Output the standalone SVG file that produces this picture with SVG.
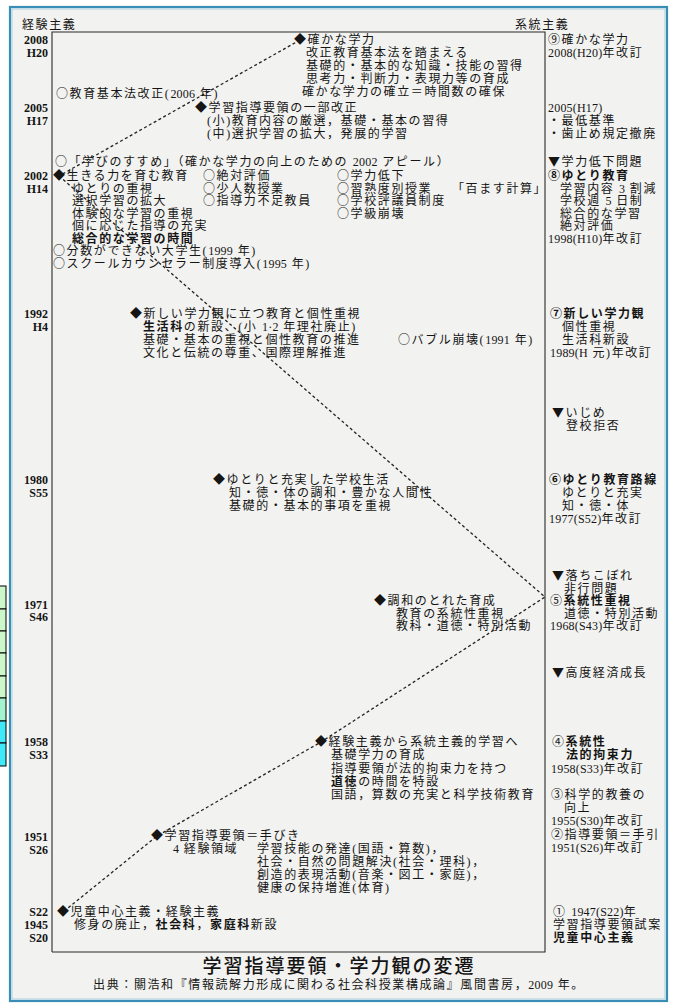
<svg xmlns="http://www.w3.org/2000/svg" width="675" height="1008" viewBox="0 0 675 1008">
<defs>
<style>
.t{font-family:"Liberation Serif","Noto Sans CJK JP",serif;font-size:12px;letter-spacing:1.6px;fill:#151515}
.s{font-family:"Noto Sans CJK JP",sans-serif}
.n{letter-spacing:0.2px}
.b{font-weight:bold}
.yr{font-family:"Liberation Serif",serif;font-size:12px;font-weight:bold;text-anchor:end;fill:#151515}
.ln{stroke:#2a2a2a;stroke-width:1.1;fill:none}
.dash{stroke:#222;stroke-width:1.3;fill:none;stroke-dasharray:3 2.5}
.cell{stroke:#000;stroke-width:1}
</style>
</defs>
<rect x="0" y="0" width="675" height="1008" fill="#ffffff"/>
<g id="side-table">
<rect class="cell" x="-2" y="586" width="8" height="23" fill="#cbf7cb"/>
<rect class="cell" x="-2" y="609" width="8" height="22" fill="#cbf7cb"/>
<rect class="cell" x="-2" y="631" width="8" height="22" fill="#cbf7cb"/>
<rect class="cell" x="-2" y="653" width="8" height="23" fill="#cbf7cb"/>
<rect class="cell" x="-2" y="676" width="8" height="22" fill="#cbf7cb"/>
<rect class="cell" x="-2" y="698" width="8" height="23" fill="#a3f3cf"/>
<rect class="cell" x="-2" y="721" width="8" height="22" fill="#3fe9f8"/>
<rect class="cell" x="-2" y="743" width="8" height="23" fill="#3fe9f8"/>
</g>
<g id="frame">
<rect x="10" y="7" width="657" height="994" fill="#f2f2f0" stroke="#3a8db4" stroke-width="2.2"/>
<rect x="12" y="9" width="653" height="990" fill="none" stroke="#a8d0e2" stroke-width="1"/>
</g>
<g id="chart-box">
<polyline class="ln" points="52,952 52,32 545,32 545,952 52,952"/>
<text class="t" x="22" y="28.5">経験主義</text>
<text class="t" x="515" y="28.5">系統主義</text>
</g>
<g id="years">
<text class="yr" x="48" y="44">2008</text><text class="yr" x="48" y="57">H20</text>
<text class="yr" x="48" y="112">2005</text><text class="yr" x="48" y="125">H17</text>
<text class="yr" x="48" y="180">2002</text><text class="yr" x="48" y="192.5">H14</text>
<text class="yr" x="48" y="318">1992</text><text class="yr" x="48" y="331">H4</text>
<text class="yr" x="48" y="484">1980</text><text class="yr" x="48" y="497">S55</text>
<text class="yr" x="48" y="609">1971</text><text class="yr" x="48" y="621">S46</text>
<text class="yr" x="48" y="746">1958</text><text class="yr" x="48" y="759">S33</text>
<text class="yr" x="48" y="841">1951</text><text class="yr" x="48" y="854">S26</text>
<text class="yr" x="48" y="916">S22</text><text class="yr" x="48" y="929">1945</text><text class="yr" x="48" y="942">S20</text>
</g>
<g id="connectors">
<polyline class="dash" points="300,40 59,176"/>
<polyline class="dash" points="59,176 545,597 321,742 157,836 63,912"/>
</g>
<g id="n2008">
<text class="t" x="294" y="44.4"><tspan class="s">◆</tspan>確かな学力</text>
<text class="t" x="306" y="57.4">改正教育基本法を踏まえる</text>
<text class="t" x="306" y="70.4">基礎的・基本的な知識・技能の習得</text>
<text class="t" x="306" y="83.4">思考力・判断力・表現力等の育成</text>
<text class="t" x="302" y="96.4">確かな学力の確立＝時間数の確保</text>
<text class="t" x="56" y="98.4"><tspan class="s">○</tspan>教育基本法改正(<tspan class="n">2006</tspan> 年)</text>
</g>
<g id="r2008">
<text class="t" x="548" y="44.4">⑨確かな学力</text>
<text class="t" x="548" y="57.4"><tspan class="n">2008(H20)</tspan>年改訂</text>
<text class="t" x="548" y="112.4"><tspan class="n">2005(H17)</tspan></text>
<text class="t" x="548" y="125.4">・最低基準</text>
<text class="t" x="548" y="138.4">・歯止め規定撤廃</text>
</g>
<g id="n2005">
<text class="t" x="195" y="112.4"><tspan class="s">◆</tspan>学習指導要領の一部改正</text>
<text class="t" x="207" y="125.4">(小)教育内容の厳選，基礎・基本の習得</text>
<text class="t" x="207" y="138.4">(中)選択学習の拡大，発展的学習</text>
</g>
<g id="n2002">
<text class="t" x="55" y="166.4"><tspan class="s">○</tspan>「学びのすすめ」（確かな学力の向上のための <tspan class="n">2002</tspan> アピール）</text>
<text class="t" x="53" y="180.4"><tspan class="s">◆</tspan>生きる力を育む教育</text>
<text class="t" x="72" y="192.9">ゆとりの重視</text>
<text class="t" x="72" y="205.4">選択学習の拡大</text>
<text class="t" x="72" y="217.9">体験的な学習の重視</text>
<text class="t" x="72" y="230.4">個に応じた指導の充実</text>
<text class="t b" x="72" y="242.9">総合的な学習の時間</text>
<text class="t" x="53" y="255.4"><tspan class="s">○</tspan>分数ができない大学生(<tspan class="n">1999</tspan> 年)</text>
<text class="t" x="53" y="267.9"><tspan class="s">○</tspan>スクールカウンセラー制度導入(<tspan class="n">1995</tspan> 年)</text>
<text class="t" x="203" y="180.4"><tspan class="s">○</tspan>絶対評価</text>
<text class="t" x="203" y="192.9"><tspan class="s">○</tspan>少人数授業</text>
<text class="t" x="203" y="205.4"><tspan class="s">○</tspan>指導力不足教員</text>
<text class="t" x="337" y="180.4"><tspan class="s">○</tspan>学力低下</text>
<text class="t" x="337" y="192.9"><tspan class="s">○</tspan>習熟度別授業</text>
<text class="t" x="337" y="205.4"><tspan class="s">○</tspan>学校評議員制度</text>
<text class="t" x="337" y="217.9"><tspan class="s">○</tspan>学級崩壊</text>
<text class="t" x="452" y="192.9">「百ます計算」</text>
</g>
<g id="r2002">
<text class="t" x="548" y="166.4"><tspan class="s">▼</tspan>学力低下問題</text>
<text class="t b" x="548" y="180.4">⑧ゆとり教育</text>
<text class="t" x="560" y="192.9">学習内容 <tspan class="n">3</tspan> 割減</text>
<text class="t" x="560" y="205.4">学校週 <tspan class="n">5</tspan> 日制</text>
<text class="t" x="560" y="217.9">総合的な学習</text>
<text class="t" x="560" y="230.4">絶対評価</text>
<text class="t" x="548" y="242.9"><tspan class="n">1998(H10)</tspan>年改訂</text>
</g>
<g id="n1992">
<text class="t" x="130" y="318.4"><tspan class="s">◆</tspan>新しい学力観に立つ教育と個性重視</text>
<text class="t" x="143" y="331.4"><tspan class="b">生活科</tspan>の新設、(小 <tspan class="n">1·2</tspan> 年理社廃止)</text>
<text class="t" x="143" y="344.4">基礎・基本の重視と個性教育の推進</text>
<text class="t" x="143" y="357.4">文化と伝統の尊重、国際理解推進</text>
<text class="t" x="398" y="344.4"><tspan class="s">○</tspan>バブル崩壊(<tspan class="n">1991</tspan> 年)</text>
</g>
<g id="r1992">
<text class="t b" x="550" y="318.4">⑦新しい学力観</text>
<text class="t" x="562" y="331.4">個性重視</text>
<text class="t" x="562" y="344.4">生活科新設</text>
<text class="t" x="550" y="357.4"><tspan class="n">1989(H</tspan> 元)年改訂</text>
<text class="t" x="552" y="417.4"><tspan class="s">▼</tspan>いじめ</text>
<text class="t" x="566" y="430.4">登校拒否</text>
</g>
<g id="n1980">
<text class="t" x="213" y="484.4"><tspan class="s">◆</tspan>ゆとりと充実した学校生活</text>
<text class="t" x="229" y="497.4">知・徳・体の調和・豊かな人間性</text>
<text class="t" x="229" y="510.4">基礎的・基本的事項を重視</text>
</g>
<g id="r1980">
<text class="t b" x="549" y="484.4">⑥ゆとり教育路線</text>
<text class="t" x="562" y="497.4">ゆとりと充実</text>
<text class="t" x="562" y="510.4">知・徳・体</text>
<text class="t" x="549" y="523.4"><tspan class="n">1977(S52)</tspan>年改訂</text>
</g>
<g id="n1971">
<text class="t" x="374" y="605.4"><tspan class="s">◆</tspan>調和のとれた育成</text>
<text class="t" x="396" y="617.9">教育の系統性重視</text>
<text class="t" x="396" y="630.4">教科・道徳・特別活動</text>
</g>
<g id="r1971">
<text class="t" x="552" y="580.4"><tspan class="s">▼</tspan>落ちこぼれ</text>
<text class="t" x="564" y="592.9">非行問題</text>
<text class="t" x="550" y="605.4">⑤<tspan class="b">系統性重視</tspan></text>
<text class="t" x="564" y="617.9">道徳・特別活動</text>
<text class="t" x="550" y="630.4"><tspan class="n">1968(S43)</tspan>年改訂</text>
<text class="t" x="552" y="677.4"><tspan class="s">▼</tspan>高度経済成長</text>
</g>
<g id="n1958">
<text class="t" x="315" y="746.4"><tspan class="s">◆</tspan>経験主義から系統主義的学習へ</text>
<text class="t" x="331" y="759.4">基礎学力の育成</text>
<text class="t" x="331" y="772.7">指導要領が法的拘束力を持つ</text>
<text class="t" x="331" y="786"><tspan class="b">道徳</tspan>の時間を特設</text>
<text class="t" x="331" y="799.3">国語，算数の充実と科学技術教育</text>
</g>
<g id="r1958">
<text class="t" x="552" y="746.4">④<tspan class="b">系統性</tspan></text>
<text class="t b" x="566" y="759.4">法的拘束力</text>
<text class="t" x="551" y="772.7"><tspan class="n">1958(S33)</tspan>年改訂</text>
<text class="t" x="551" y="799.3">③科学的教養の</text>
<text class="t" x="564" y="812.3">向上</text>
<text class="t" x="551" y="825.3"><tspan class="n">1955(S30)</tspan>年改訂</text>
<text class="t" x="551" y="838.8">②指導要領＝手引</text>
<text class="t" x="551" y="851.8"><tspan class="n">1951(S26)</tspan>年改訂</text>
</g>
<g id="n1951">
<text class="t" x="151" y="840.4"><tspan class="s">◆</tspan>学習指導要領＝手びき</text>
<text class="t" x="173" y="853.4"><tspan class="n">4</tspan> 経験領域</text>
<text class="t" x="257" y="853.4">学習技能の発達(国語・算数)，</text>
<text class="t" x="257" y="866.4">社会・自然の問題解決(社会・理科)，</text>
<text class="t" x="257" y="879.4">創造的表現活動(音楽・図工・家庭)，</text>
<text class="t" x="257" y="892.4">健康の保持増進(体育)</text>
</g>
<g id="n1947">
<text class="t" x="57" y="916.4"><tspan class="s">◆</tspan>児童中心主義・経験主義</text>
<text class="t" x="74" y="929.4">修身の廃止，<tspan class="b">社会科</tspan>，<tspan class="b">家庭科</tspan>新設</text>
</g>
<g id="r1947">
<text class="t" x="553" y="916.4">① <tspan class="n">1947(S22)</tspan>年</text>
<text class="t" x="553" y="929.4">学習指導要領試案</text>
<text class="t b" x="553" y="942.4">児童中心主義</text>
</g>
<g id="caption">
<text class="t" x="339" y="972.5" text-anchor="middle" style="font-size:19px;letter-spacing:2px;font-weight:500">学習指導要領・学力観の変遷</text>
<text class="t" x="339" y="988.5" text-anchor="middle">出典：關浩和『情報読解力形成に関わる社会科授業構成論』風間書房，<tspan class="n">2009</tspan> 年。</text>
</g>
</svg>
